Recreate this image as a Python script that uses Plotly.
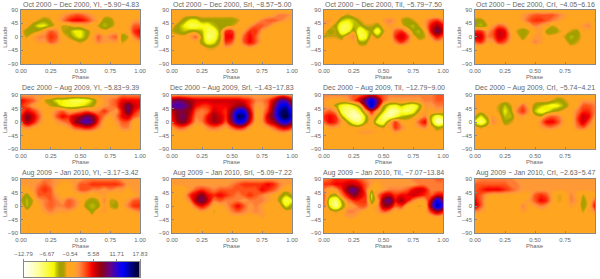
import plotly.graph_objects as go

W, H = 600, 279
INK = "#666666"
FONT = "Liberation Sans"
ZMIN, ZMAX = -12.79, 17.83

PHASE = [0, .05, .10, .15, .20, .25, .30, .35, .40, .45, .50, .55, .60, .65, .70, .75, .80, .85, .90, .95, 1]
LAT = [90, 72, 54, 36, 18, 0, -18, -36, -54, -90]
BG = [-1] * 21

YI_1 = [BG,
    [-1, -1, -1, -1, -1, -1, 0, 1, 2, 3, 3, 2, 1, 0, -1, -1, -1, -1, -1, -1, -1],
    [-1, -1, -1, -2, -3, -2, 0, 2, 4, 5, 5, 4, 2, 0, -3, -3, -1, -1, -1, 1, 1],
    [-1, -1, -3, -5, -5, -3, -1, -2, -2, -1, -1, 0, -1, -2, -4, -3, -1, -1, 0, 3, 3],
    [-1, -3, -3, -2, 1, 3, 2, -2, -3, -5, -5, -3, -1, 0, -1, 0, 0, -1, 0, 4, 5],
    [-1, -2, 0, 2, 2, 4, 3, -1, -2, -4, -5, -3, 0, 3, 1, 2, 3, -3, -2, 2, 4],
    [-1, -1, 0, 1, 1, 3, 2, 0, -1, -1, -2, -1, 0, 2, 1, 1, 1, -2, -1, 0, 1],
    BG, BG, BG]
SRI_1 = [BG,
    [-1, -1, -1, -1, -1, -1, -1, -1, -1, -1, -1, -1, -1, -1, -1, -1, 0, 1, 2, 2, 1],
    [-1, -1, -3, -5, -5, -3, -3, -3, -3, -3, -3, -2, -1, -1, 0, 2, 3, 3, 2, 1, 0],
    [-1, -3, -5, -7, -7, -6, -6, -4, -3, -3, -2, -1, -1, 1, 3, 3, 2, 0, -1, -1, -1],
    [-2, -3, -4, -3, -3, -4, -7, -7, -3, 4, 4, -1, 1, 4, 4, 1, -1, -1, -1, -1, -1],
    [-1, -1, -1, 1, 3, -3, -8, -7, -3, 5, 5, -1, 3, 5, 3, 0, 0, -1, -1, -1, -1],
    [-1, -1, -1, -1, 0, -3, -6, -5, -2, 4, 3, -1, 3, 5, 3, 0, 0, -1, -1, -1, -1],
    [-1, -1, -1, -1, -1, -1, -2, -2, -1, 1, 0, -1, 0, 1, 0, -1, -1, -1, -1, -1, -1],
    BG, BG]
TII_1 = [BG,
    [-1, -1, -1, -1, -2, -1, -1, -1, -1, -1, -1, -1, -1, -1, -1, -1, -1, -1, -1, -1, -1],
    [1, 1, -1, -4, -5, -4, -2, -1, -1, -1, 1, 2, 1, -2, -3, -2, -1, 1, 3, 4, 2],
    [1, -1, -3, -7, -7, -4, -4, -2, -2, -3, -1, 1, 0, -1, -3, -4, -2, 1, 5, 7, 5],
    [-1, -3, -2, -7, -6, -2, -7, -5, -3, -7, -2, -1, 3, 4, 1, -3, -4, -1, 5, 9, 6],
    [-2, -2, -2, -3, 0, 2, -7, -6, -1, -3, -1, -1, 4, 6, 4, -1, -3, -2, 2, 5, 3],
    [-1, -1, -1, -1, -1, 0, -3, -3, 0, 0, 0, -1, 2, 4, 2, -1, -1, -1, 0, 1, 0],
    BG, BG, BG]
CRI_1 = [BG,
    [0, 0, -1, -1, -1, -1, -1, -1, 1, 2, 3, 3, 3, 3, 2, 1, 0, -1, -1, -1, -1],
    [-3, -3, -1, -1, -1, -1, -1, 0, 1, 3, 4, 4, 3, 2, 1, 0, -1, -1, 0, 0, -2],
    [-3, -4, -2, 1, 3, 2, -1, -1, -1, 0, 2, 1, 0, -2, -1, -1, -1, 0, 1, 2, -1],
    [4, 4, 1, 3, 6, 5, 0, -2, -3, -2, 0, 1, -3, -3, -2, -1, -2, -3, 0, 0, -1],
    [6, 6, 2, 3, 6, 5, 1, -1, -3, -1, 1, 1, -1, -1, -1, -2, -4, -3, -1, -1, 0],
    [3, 4, 1, 1, 4, 3, 0, -1, -1, 0, 2, 1, 0, 0, 0, -1, -3, -2, -1, -1, 0],
    BG, BG, BG]
YI_2 = [
    [1, 1, 1, 1, 1, 1, 1, 1, 1, 1, 1, 1, 1, 1, 1, 1, 1, 2, 2, 2, 2],
    [5, 4, 3, 1, -2, -3, -5, -5, -6, -7, -7, -6, -4, -1, 1, 2, 3, 5, 5, 5, 5],
    [4, 3, 1, 0, -1, -2, -3, -5, -6, -6, -5, -4, -3, 0, 1, 2, 3, 6, 9, 6, 5],
    [3, 5, 4, 2, 0, 0, 2, 3, 1, 1, 2, 3, 2, 2, 4, 2, 1, 5, 9, 5, 3],
    [4, 8, 6, 3, 0, 0, 3, 5, 4, 6, 7, 9, 8, 4, 2, 0, 2, 5, 6, 3, 2],
    [3, 7, 5, 2, 0, -1, 1, 2, 3, 7, 9, 11, 9, 4, 0, 0, 1, 3, 3, 0, -2],
    [1, 2, 1, 0, 0, -1, 0, 0, 1, 3, 4, 5, 4, 2, 0, 0, 0, 2, 2, 0, 1],
    [-1, -1, -1, -1, -1, -1, -1, -1, -1, 0, 0, 0, 0, -1, -1, -1, -1, 0, 0, -1, -1],
    BG, BG]
SRI_2 = [
    [1, 1, 1, 1, 1, 1, 1, 1, 1, 1, 1, 1, 1, 1, 1, 1, 1, 1, 2, 2, 1],
    [8, 9, 8, 7, 6, 6, 6, 6, 6, 6, 6, 6, 5, 4, 2, 2, 3, 6, 10, 10, 6],
    [10, 11, 10, 8, 5, 4, 4, 5, 5, 5, 6, 7, 7, 4, 1, 1, 3, 8, 13, 14, 9],
    [6, 8, 8, 7, 3, 2, 3, 6, 5, 4, 8, 13, 13, 6, 0, 1, 4, 9, 15, 16, 12],
    [5, 8, 9, 6, 2, 2, 5, 7, 6, 4, 9, 16, 15, 7, 0, 1, 6, 9, 15, 17, 13],
    [4, 7, 8, 5, 1, 2, 5, 7, 6, 3, 8, 13, 12, 5, 0, 1, 5, 7, 11, 13, 9],
    [1, 3, 3, 1, 0, 0, 2, 3, 2, 1, 3, 5, 4, 1, -1, 0, 1, 3, 5, 6, 4],
    [-1, 0, 0, -1, -1, -1, 0, 0, 0, -1, 0, 0, 0, -1, -1, -1, -1, 0, 1, 1, 0],
    BG, BG]
TII_2 = [
    [2, 2, 2, 2, 2, 3, 3, 4, 5, 4, 3, 2, 2, 2, 2, 2, 2, 2, 2, 3, 3],
    [1, 0, 0, 0, 1, 3, 6, 10, 14, 9, 3, 1, 1, 1, 1, 1, 1, 2, 2, 3, 3],
    [1, 0, -3, -6, -7, -5, -2, 7, 15, 7, -2, -5, -6, -4, -6, -7, -4, 1, 1, 2, 2],
    [2, 3, 1, -7, -8, -9, -6, 0, 5, 0, -4, -9, -9, -7, -8, -6, -2, 1, 0, 1, 0],
    [4, 5, 4, -3, -8, -10, -9, -4, 1, -3, -8, -9, -7, -4, -3, -2, 0, 2, -3, -7, -5],
    [3, 5, 4, 1, -3, -7, -8, -3, 0, -6, -7, -1, 4, 0, -1, 0, 3, 5, -3, -10, -9],
    [0, 1, 1, 0, 0, -1, -1, 0, 0, -1, -2, 0, 4, 2, 0, 0, 1, 2, -1, -3, -2],
    [-1, -1, -1, -1, -1, 0, 1, 1, 1, 0, -1, -1, 1, 0, -1, -1, -1, -1, -1, -1, -1],
    BG, BG]
CRI_2 = [BG,
    [1, 0, -1, -1, -1, -1, -1, -1, -1, -1, -1, -1, -1, -2, -3, -2, -1, 0, 1, 1, 1],
    [1, 0, -1, -1, -2, -4, -2, 0, 3, 0, -3, -4, -5, -6, -5, -3, -1, 0, 3, 3, 2],
    [0, -1, 0, -1, -2, -5, -3, 2, 4, 1, -4, -6, -5, -3, -2, -1, 0, 2, 4, 4, 2],
    [-2, -5, -2, 1, -1, -4, -4, 0, 1, -1, -1, -2, 2, 3, 2, -1, -1, 3, 6, 5, 1],
    [-5, -8, -4, 2, 0, -3, -2, -1, 0, 0, -1, 2, 5, 5, 3, 0, -1, 3, 6, 3, 0],
    [-1, -2, -1, 0, -1, -1, -1, -1, 0, -1, -1, 1, 2, 2, 1, -1, -1, 2, 3, 1, 0],
    BG, BG, BG]
YI_3 = [
    [1, 1, 1, 1, 2, 2, 1, 1, 1, 1, 1, 2, 2, 2, 2, 2, 2, 1, 1, 1, 1],
    [1, 1, 1, 2, 3, 2, 1, 0, 0, 1, 3, 3, 4, 4, 4, 4, 4, 3, 1, 1, 1],
    [-1, 0, 1, 3, 4, 3, 0, -1, -1, 1, 3, 3, 2, 2, 1, 2, 1, 1, 0, 1, 1],
    [-1, -3, 0, 3, 3, 3, 1, 0, 0, 0, 0, 0, -1, 0, 1, -1, 0, 0, 0, 0, 1],
    [-2, -4, -2, 1, 2, 3, 2, 1, 3, 2, 0, -2, -3, -2, 2, -2, -2, 0, 1, 3, 3],
    [0, -4, -1, 0, 2, 3, 2, 2, 3, 2, 0, -3, -4, -3, 1, -2, -3, 0, 2, 4, 4],
    [-1, -1, -1, 0, 1, 2, 1, 1, 1, 0, -1, -1, -3, 0, 1, -1, -1, 0, 0, 1, 2],
    [-1, -1, -1, -1, 0, 0, 0, -1, -1, -1, -1, -1, -1, -1, 0, -1, -1, -1, -1, -1, -1],
    BG, BG]
SRI_3 = [
    [1, 1, 1, 1, 1, 1, 1, 1, 1, 1, 1, 1, 1, 1, 1, 1, 1, 1, 1, 1, 1],
    [1, 1, 1, 1, 1, 1, 1, 1, 1, 1, 2, 3, 4, 4, 4, 4, 5, 4, 2, 1, 1],
    [-1, -1, 0, 1, 3, 4, 3, 2, 3, 3, 3, 3, 3, 3, 3, 5, 4, 3, 1, -1, -1],
    [-1, -1, 0, 4, 6, 8, 5, 4, 5, 4, 3, 2, 3, 4, 3, 2, 1, 0, -2, -4, -2],
    [-1, -1, 0, 2, 7, 9, 6, 2, 3, 2, 2, 2, 1, 2, 2, 2, 1, 0, -3, -7, -5],
    [-1, -1, -1, 0, 3, 5, 3, 0, 0, 1, 3, 5, 3, 1, 2, 1, -1, 0, -1, -5, -3],
    [-1, -1, -1, -1, 0, 1, 0, -2, 0, 0, 2, 3, 2, 1, 2, 1, 0, 0, 0, -1, -1],
    [-1, -1, -1, -1, -1, -1, -1, -1, -1, -1, 0, 0, 0, 0, 0, 1, 0, -1, -1, -1, -1],
    BG, BG]
TII_3 = [
    [2, 3, 4, 4, 4, 4, 3, 2, 1, 1, 1, 1, 1, 1, 1, 2, 2, 2, 2, 3, 3],
    [4, 4, 5, 5, 6, 6, 5, 3, 1, 0, 1, 1, 1, 1, 1, 1, 2, 2, 2, 2, 2],
    [2, 0, 1, 4, 8, 10, 7, 3, -2, 0, 1, 2, 2, 2, 3, 5, 6, 5, 2, 2, 2],
    [3, -2, -3, 2, 5, 8, 6, 4, -5, 2, 5, 6, 4, 5, 5, 6, 5, 4, 3, 5, 5],
    [3, -6, -8, -3, 2, 4, 4, 4, -4, 0, 8, 10, 5, 7, 5, 2, 0, 1, 6, 13, 9],
    [3, -5, -9, -4, 0, 1, 3, 3, -1, 1, 7, 7, 3, 4, 0, -1, -2, -1, 8, 15, 11],
    [0, -1, -2, -1, 2, 2, 1, 0, 0, 1, 3, 2, 0, 0, -1, -1, 0, 0, 4, 7, 5],
    [-1, -1, -1, 0, 1, 1, 0, -1, -1, -1, -1, -1, -1, -1, -1, -1, -1, -1, 0, 1, 0],
    BG, BG]
CRI_3 = [
    [1, 2, 2, 2, 2, 2, 2, 1, 1, 1, 1, 1, 1, 1, 1, 1, 1, 1, 1, 1, 1],
    [3, 3, 3, 3, 3, 3, 2, 2, 1, 1, 1, 1, 1, 1, 1, 1, 1, 1, 1, 1, 1],
    [3, 4, 5, 5, 5, 4, 3, 2, 1, 1, 1, 1, 1, 1, 1, 1, 1, 1, 1, 1, 1],
    [4, 3, 1, 0, 0, 0, 0, 0, 0, 0, 3, 4, 3, 0, -2, -1, 2, 0, -2, -1, 0],
    [5, 3, 0, 0, -1, -1, 0, -1, 0, 1, 3, 5, 4, 0, -2, -1, 2, 1, -3, -1, 3],
    [6, 3, 0, -1, -1, -1, -1, -1, 2, 0, 1, 2, 1, 0, -1, -1, 1, 0, -3, -1, 5],
    [2, 1, 0, -1, -1, -1, -1, -1, 1, 0, -1, 0, 0, -1, -1, -1, 0, 0, -2, 0, 2],
    BG, BG, BG]

TITLES = [
    "Oct 2000 \u2212 Dec 2000, YI, \u22125.90\u22124.83",
    "Oct 2000 \u2212 Dec 2000, SrI, \u22128.57\u22125.00",
    "Oct 2000 \u2212 Dec 2000, TiI, \u22125.79\u22127.50",
    "Oct 2000 \u2212 Dec 2000, CrI, \u22124.05\u22126.16",
    "Dec 2000 \u2212 Aug 2009, YI, \u22125.83\u22129.39",
    "Dec 2000 \u2212 Aug 2009, SrI, \u22121.43\u221217.83",
    "Dec 2000 \u2212 Aug 2009, TiI, \u221212.79\u22129.00",
    "Dec 2000 \u2212 Aug 2009, CrI, \u22125.74\u22124.21",
    "Aug 2009 \u2212 Jan 2010, YI, \u22123.17\u22123.42",
    "Aug 2009 \u2212 Jan 2010, SrI, \u22125.09\u22127.22",
    "Aug 2009 \u2212 Jan 2010, TiI, \u22127.07\u221213.84",
    "Aug 2009 \u2212 Jan 2010, CrI, \u22122.63\u22125.47",
]
MAPS = [YI_1, SRI_1, TII_1, CRI_1, YI_2, SRI_2, TII_2, CRI_2, YI_3, SRI_3, TII_3, CRI_3]

CBAR_TICKS = [-12.79, -6.67, -0.54, 5.58, 11.71, 17.83]
CBAR_LABELS = ["\u221212.79", "\u22126.67", "\u22120.54", "5.58", "11.71", "17.83"]
CBAR_RAMP = [-12.79, -11, -9, -7, -5, -4, -3.2, -2.2, -1.5, 0.3, 1.5, 2.5, 3.5, 5, 6, 7.5, 8.5, 10, 11.5, 13.2, 14.5, 16, 17.83]

STOPS = [
    (-12.79, "#ffffff"), (-9, "#ffffa0"), (-5, "#f8f800"), (-4, "#c0c000"), (-3.2, "#a0a000"),
    (-2.2, "#b0a000"), (-1.5, "#ffa520"), (0.3, "#ffa520"), (1.5, "#ff9440"), (2.5, "#ff7030"), (3.5, "#ff4810"),
    (5, "#f80000"), (7.5, "#900010"), (10, "#600090"), (13.2, "#0000ff"), (16, "#000060"), (17.83, "#000020"),
]
COLORSCALE = [[(v - ZMIN) / (ZMAX - ZMIN), c] for v, c in STOPS]
SHARED = dict(colorscale=COLORSCALE, zmin=ZMIN, zmax=ZMAX, showscale=False)

# panel boxes in pixels
COL_X = [(21, 140), (172, 292), (324, 443), (475, 595)]
ROW_Y = [(9.5, 64), (95, 149), (179, 233)]
TITLE_GAP = [5, 7, 6.5]
CBAR_BOX = (23.5, 140, 262, 277)


def xdom(a, b):
    return [a / W, b / W]


def ydom(top, bottom):
    return [1 - bottom / H, 1 - top / H]


axis_style = dict(
    showgrid=False, zeroline=False, showline=True, mirror=True, linecolor="#888888", linewidth=0.6,
    ticks="inside", ticklen=2, tickwidth=0.6, tickcolor="#888888", ticklabelstandoff=1,
    tickfont=dict(family=FONT, size=6, color=INK),
)
text_font = dict(family=FONT, size=6, color=INK)

fig = go.Figure()
layout = {}
annotations = []
for i, (title, z) in enumerate(zip(TITLES, MAPS)):
    row, col = divmod(i, 4)
    x0, x1 = COL_X[col]
    top, bottom = ROW_Y[row]
    n = "" if i == 0 else str(i + 1)
    fig.add_trace(go.Contour(
        x=PHASE, y=LAT, z=z, xaxis=f"x{n}", yaxis=f"y{n}", **SHARED,
        autocontour=False, contours=dict(start=ZMIN, end=ZMAX, size=0.35, coloring="fill", showlines=False),
        line=dict(width=0, smoothing=1.3),
    ))
    layout[f"xaxis{n}"] = dict(
        axis_style, domain=xdom(x0, x1), anchor=f"y{n}", range=[0, 1],
        tickvals=[0, .25, .5, .75, 1], ticktext=["0.00", "0.25", "0.50", "0.75", "1.00"],
    )
    layout[f"yaxis{n}"] = dict(
        axis_style, domain=ydom(top, bottom), anchor=f"x{n}", range=[-90, 90],
        tickvals=[-90, -45, 0, 45, 90],
        ticktext=["\u221290", "\u221245", "0", "45", "90"],
    )
    annotations.append(dict(
        text=title, xref="paper", yref="paper", x=(x0 + x1) / 2 / W, y=1 - (top - TITLE_GAP[row]) / H,
        showarrow=False, font=dict(family=FONT, size=7, color=INK), xanchor="center", yanchor="middle",
    ))
    annotations.append(dict(
        text="Phase", xref="paper", yref="paper", x=(x0 + x1) / 2 / W, y=1 - (bottom + 13) / H,
        showarrow=False, font=text_font, xanchor="center", yanchor="middle",
    ))
    annotations.append(dict(
        text="Latitude", xref="paper", yref="paper", x=(x0 - 16) / W, y=1 - (top + bottom) / 2 / H,
        showarrow=False, font=text_font, textangle=-90, xanchor="center", yanchor="middle",
    ))

# colour bar drawn as its own strip, ticks on top
fig.add_trace(go.Heatmap(
    x=CBAR_RAMP, y=[0, 1], z=[CBAR_RAMP, CBAR_RAMP], xaxis="x13", yaxis="y13", **SHARED, zsmooth="best",
))
layout["xaxis13"] = dict(
    axis_style, domain=xdom(CBAR_BOX[0], CBAR_BOX[1]), anchor="y13", side="top", range=[ZMIN, ZMAX],
    ticks="outside", ticklen=2, tickvals=CBAR_TICKS, ticktext=CBAR_LABELS,
)
layout["yaxis13"] = dict(
    axis_style, domain=ydom(CBAR_BOX[2], CBAR_BOX[3]), anchor="x13", range=[0, 1], ticks="", showticklabels=False,
)

fig.update_layout(
    width=W, height=H, margin=dict(l=0, r=0, t=0, b=0, autoexpand=False), paper_bgcolor="white", plot_bgcolor="white",
    showlegend=False, annotations=annotations,
    **layout,
)
fig.write_html("out.html", post_script="document.body.style.margin='0';", config=dict(displayModeBar=False))
